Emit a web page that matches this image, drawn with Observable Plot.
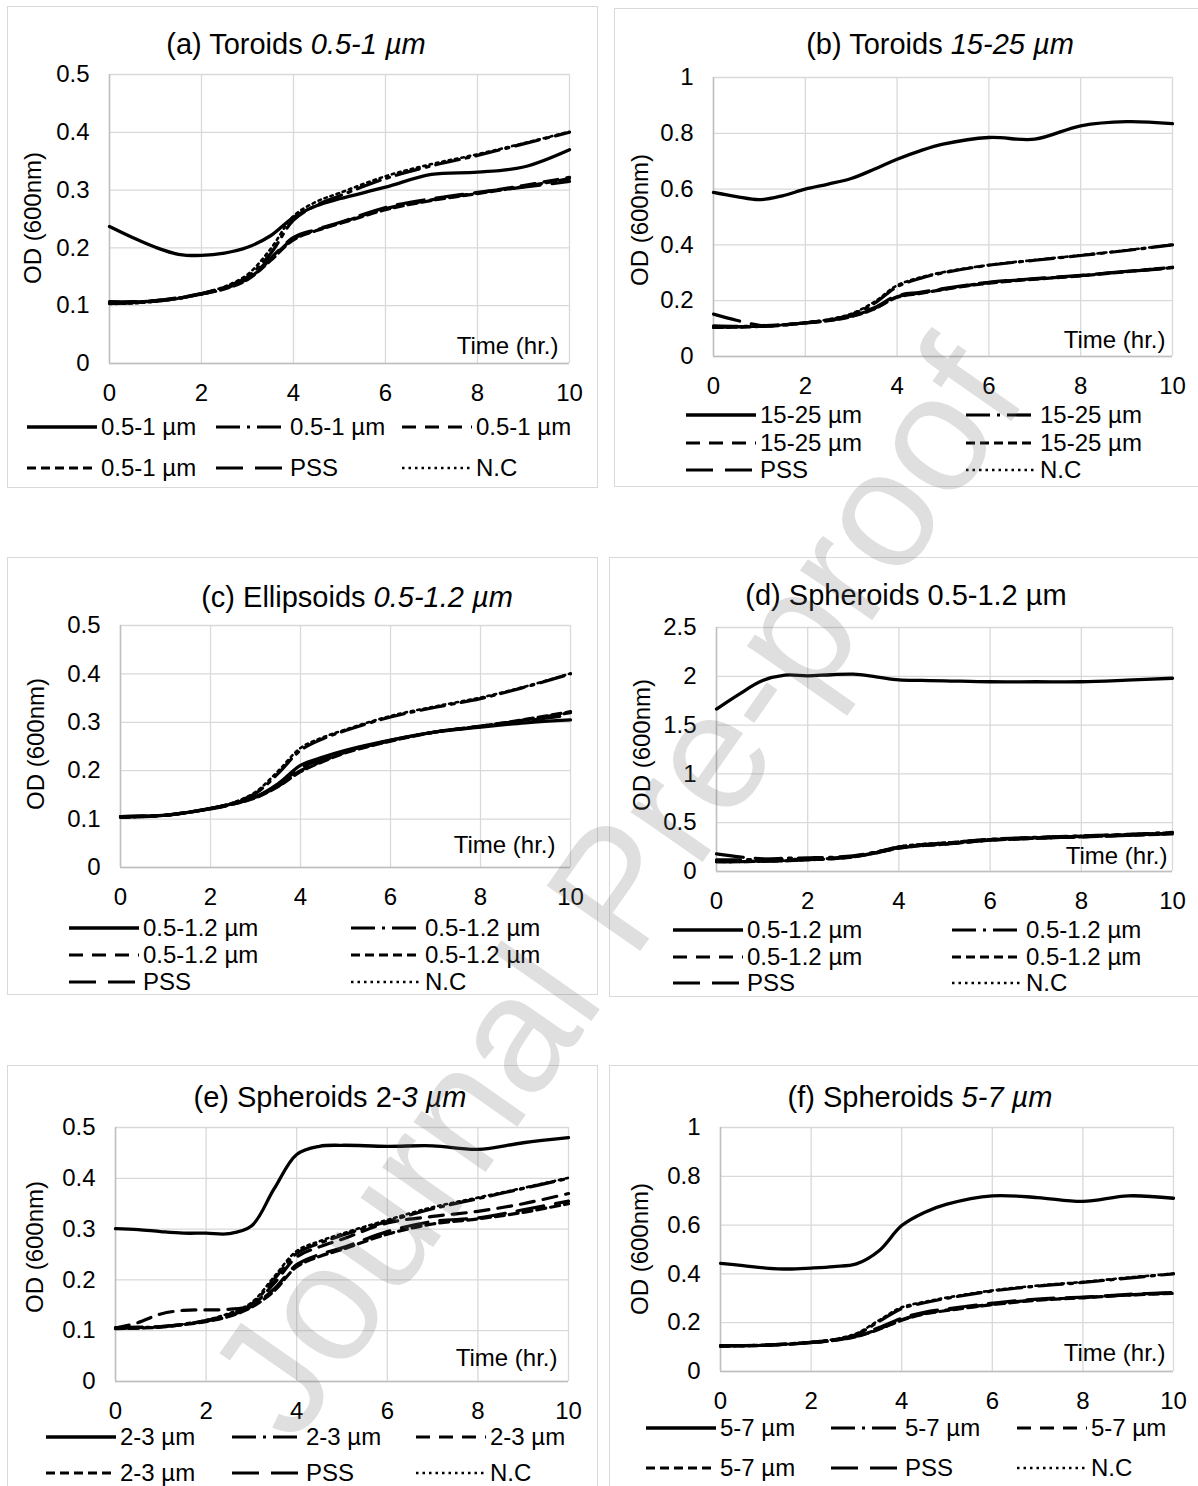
<!DOCTYPE html>
<html><head><meta charset="utf-8">
<script src="https://cdn.jsdelivr.net/npm/d3@7"></script>
<script src="https://cdn.jsdelivr.net/npm/@observablehq/plot@0.6"></script>
<style>
body{margin:0;background:#fff;}
#fig{position:relative;width:1198px;height:1486px;overflow:hidden;background:#fff;font-family:"Liberation Sans",Arial,sans-serif;color:#000;}
.box{position:absolute;border:1.5px solid #d9d9d9;box-sizing:border-box;}
.title{position:absolute;transform:translate(-50%,-50%);font-size:29px;white-space:nowrap;}
.ylab{position:absolute;transform:translate(-50%,-50%) rotate(-90deg);font-size:24px;white-space:nowrap;}
.leg{position:absolute;font-size:24px;white-space:nowrap;display:flex;align-items:center;transform:translateY(-50%);}
.leg svg{display:block;margin-right:4px;}
.wm{position:absolute;left:615px;top:888px;transform:translate(-50%,-50%) rotate(-55deg);font-size:166px;white-space:nowrap;color:rgba(110,110,110,0.22);pointer-events:none;z-index:10;}
</style></head>
<body>
<div id="fig"></div>
<script>
// ---------- data ----------
const hours = [0,0.5,1,1.5,2,2.5,3,3.5,4,4.5,5,6,7,8,9,10];
const xTicks = [0,2,4,6,8,10];

// (a) Toroids 0.5-1 µm
const a1 = [0.237,0.218,0.201,0.189,0.187,0.191,0.201,0.221,0.253,0.273,0.285,0.305,0.327,0.331,0.340,0.370];
const a2 = [0.104,0.105,0.108,0.113,0.121,0.132,0.150,0.190,0.248,0.274,0.290,0.320,0.342,0.360,0.380,0.400];
const a3 = [0.105,0.106,0.108,0.113,0.120,0.130,0.146,0.180,0.216,0.231,0.243,0.268,0.283,0.295,0.308,0.322];
const a4 = [0.106,0.106,0.109,0.113,0.120,0.129,0.145,0.178,0.214,0.230,0.242,0.266,0.282,0.294,0.306,0.320];
const a5 = [0.107,0.107,0.109,0.114,0.121,0.131,0.147,0.182,0.218,0.232,0.244,0.270,0.285,0.296,0.305,0.315];
const a6 = [0.103,0.104,0.107,0.112,0.121,0.133,0.154,0.198,0.255,0.280,0.295,0.324,0.345,0.362,0.381,0.401];
const yTicksA = [0,0.1,0.2,0.3,0.4,0.5];
const legendA = ["0.5-1 µm","0.5-1 µm","0.5-1 µm","0.5-1 µm","PSS","N.C"];

// (b) Toroids 15-25 µm
const b1 = [0.588,0.573,0.562,0.576,0.600,0.618,0.638,0.671,0.707,0.737,0.761,0.785,0.779,0.827,0.842,0.835];
const b2 = [0.110,0.108,0.108,0.112,0.121,0.131,0.150,0.190,0.250,0.280,0.300,0.327,0.345,0.362,0.380,0.400];
const b3 = [0.105,0.106,0.108,0.113,0.120,0.129,0.145,0.172,0.214,0.228,0.241,0.265,0.278,0.290,0.305,0.318];
const b4 = [0.104,0.105,0.108,0.113,0.120,0.128,0.143,0.170,0.212,0.226,0.240,0.263,0.277,0.289,0.304,0.320];
const b5 = [0.152,0.130,0.112,0.114,0.121,0.130,0.146,0.175,0.218,0.230,0.243,0.266,0.279,0.291,0.305,0.316];
const b6 = [0.105,0.106,0.108,0.113,0.122,0.133,0.153,0.195,0.255,0.283,0.302,0.328,0.346,0.363,0.381,0.401];
const yTicksB = [0,0.2,0.4,0.6,0.8,1];
const legendB = ["15-25 µm","15-25 µm","15-25 µm","15-25 µm","PSS","N.C"];

// (c) Ellipsoids 0.5-1.2 µm
const c1 = [0.105,0.106,0.108,0.114,0.122,0.132,0.146,0.173,0.211,0.228,0.242,0.263,0.280,0.290,0.299,0.305];
const c2 = [0.105,0.106,0.108,0.114,0.122,0.133,0.153,0.194,0.242,0.266,0.283,0.311,0.331,0.349,0.373,0.400];
const c3 = [0.104,0.105,0.108,0.114,0.121,0.131,0.145,0.168,0.200,0.220,0.238,0.262,0.280,0.292,0.305,0.320];
const c4 = [0.104,0.105,0.108,0.114,0.121,0.131,0.144,0.167,0.198,0.219,0.237,0.261,0.280,0.292,0.306,0.322];
const c5 = [0.105,0.106,0.108,0.114,0.122,0.132,0.146,0.170,0.205,0.224,0.240,0.263,0.280,0.291,0.303,0.315];
const c6 = [0.104,0.105,0.108,0.114,0.122,0.134,0.156,0.199,0.247,0.269,0.285,0.313,0.333,0.351,0.374,0.401];
const yTicksC = [0,0.1,0.2,0.3,0.4,0.5];
const legendC = ["0.5-1.2 µm","0.5-1.2 µm","0.5-1.2 µm","0.5-1.2 µm","PSS","N.C"];

// (d) Spheroids 0.5-1.2 µm
const d1 = [1.664,1.818,1.954,2.012,2.005,2.016,2.022,1.995,1.964,1.958,1.954,1.944,1.944,1.944,1.960,1.980];
const d2 = [0.120,0.120,0.125,0.135,0.140,0.145,0.160,0.200,0.250,0.275,0.290,0.330,0.350,0.365,0.380,0.400];
const d3 = [0.100,0.100,0.105,0.110,0.120,0.130,0.150,0.190,0.240,0.265,0.280,0.320,0.340,0.355,0.370,0.390];
const d4 = [0.100,0.100,0.105,0.110,0.120,0.130,0.150,0.190,0.240,0.265,0.280,0.320,0.340,0.355,0.370,0.385];
const d5 = [0.180,0.150,0.130,0.125,0.125,0.135,0.155,0.195,0.245,0.270,0.285,0.325,0.345,0.360,0.375,0.390];
const d6 = [0.100,0.100,0.105,0.110,0.120,0.135,0.155,0.200,0.255,0.280,0.295,0.330,0.350,0.365,0.380,0.400];
const yTicksD = [0,0.5,1,1.5,2,2.5];
const legendD = ["0.5-1.2 µm","0.5-1.2 µm","0.5-1.2 µm","0.5-1.2 µm","PSS","N.C"];

// (e) Spheroids 2-3 µm
const e1 = [0.301,0.299,0.295,0.292,0.292,0.291,0.306,0.379,0.447,0.463,0.465,0.463,0.464,0.457,0.470,0.480];
const e2 = [0.105,0.106,0.108,0.113,0.120,0.132,0.152,0.201,0.252,0.272,0.288,0.315,0.340,0.360,0.380,0.400];
const e3 = [0.105,0.116,0.133,0.140,0.141,0.142,0.150,0.193,0.245,0.265,0.280,0.312,0.325,0.335,0.350,0.370];
const e4 = [0.104,0.105,0.107,0.112,0.118,0.128,0.146,0.178,0.226,0.246,0.260,0.290,0.310,0.320,0.333,0.350];
const e5 = [0.106,0.107,0.108,0.112,0.119,0.129,0.148,0.182,0.230,0.250,0.263,0.295,0.315,0.322,0.338,0.355];
const e6 = [0.104,0.105,0.108,0.113,0.121,0.134,0.155,0.206,0.257,0.276,0.291,0.318,0.343,0.362,0.381,0.401];
const yTicksE = [0,0.1,0.2,0.3,0.4,0.5];
const legendE = ["2-3 µm","2-3 µm","2-3 µm","2-3 µm","PSS","N.C"];

// (f) Spheroids 5-7 µm
const f1 = [0.443,0.434,0.424,0.420,0.424,0.430,0.441,0.495,0.598,0.652,0.686,0.720,0.713,0.697,0.720,0.710];
const f2 = [0.105,0.106,0.108,0.113,0.120,0.130,0.152,0.205,0.258,0.282,0.300,0.330,0.350,0.365,0.383,0.400];
const f3 = [0.105,0.106,0.108,0.112,0.119,0.128,0.144,0.175,0.212,0.238,0.252,0.276,0.294,0.303,0.314,0.322];
const f4 = [0.104,0.105,0.107,0.112,0.118,0.127,0.143,0.173,0.210,0.236,0.250,0.274,0.292,0.302,0.313,0.320];
const f5 = [0.106,0.106,0.108,0.113,0.119,0.129,0.146,0.180,0.218,0.243,0.257,0.280,0.297,0.305,0.316,0.324];
const f6 = [0.104,0.105,0.108,0.113,0.121,0.132,0.156,0.210,0.263,0.285,0.303,0.332,0.352,0.367,0.385,0.401];
const yTicksF = [0,0.2,0.4,0.6,0.8,1];
const legendF = ["5-7 µm","5-7 µm","5-7 µm","5-7 µm","PSS","N.C"];

// ---------- styles / layout ----------
const FONT = '"Liberation Sans", Arial, sans-serif';
const lineStyles = [
  {dash: null, w: 3.3},
  {dash: "24,7,3,7", w: 3.2},
  {dash: "14,9", w: 3.2},
  {dash: "9,5", w: 3.2},
  {dash: "27,12", w: 3.2},
  {dash: "2.5,4", w: 2.6}
];

const panels = [
  {series:[a1,a2,a3,a4,a5,a6], yTicks:yTicksA, legend:legendA, title:["(a) Toroids ","0.5-1 µm"],
   box:[7,6,598,488], plot:[109,569,74,363], titleC:[296,44], ylab:[33,218], time:[-11,-17],
   legX:[27,216,402], legY:[427,468]},
  {series:[b1,b2,b3,b4,b5,b6], yTicks:yTicksB, legend:legendB, title:["(b) Toroids ","15-25 µm"],
   box:[614,8,1210,487], plot:[713,1172,77,356], titleC:[940,44], ylab:[640,220], time:[-7,-16],
   legX:[686,966], legY:[415,443,470]},
  {series:[c1,c2,c3,c4,c5,c6], yTicks:yTicksC, legend:legendC, title:["(c) Ellipsoids ","0.5-1.2 µm"],
   box:[7,557,598,995], plot:[120,570,625,867], titleC:[357,597], ylab:[36,744], time:[-15,-22],
   legX:[69,351], legY:[928,955,982]},
  {series:[d1,d2,d3,d4,d5,d6], yTicks:yTicksD, legend:legendD, title:["(d) Spheroids 0.5-1.2 µm",""],
   box:[609,557,1210,997], plot:[716,1172,627,871], titleC:[906,595], ylab:[642,745], time:[-5,-15],
   legX:[673,952], legY:[930,957,983]},
  {series:[e1,e2,e3,e4,e5,e6], yTicks:yTicksE, legend:legendE, title:["(e) Spheroids 2-","3 µm"],
   box:[7,1065,598,1500], plot:[115,568,1127,1381], titleC:[330,1097], ylab:[35,1247], time:[-11,-23],
   legX:[46,232,416], legY:[1437,1473]},
  {series:[f1,f2,f3,f4,f5,f6], yTicks:yTicksF, legend:legendF, title:["(f) Spheroids ","5-7 µm"],
   box:[609,1065,1210,1500], plot:[720,1173,1127,1371], titleC:[920,1097], ylab:[640,1249], time:[-8,-18],
   legX:[646,831,1017], legY:[1428,1468]}
];

const fig = document.getElementById("fig");

function el(tag, cls, parent) { const e = document.createElement(tag); if (cls) e.className = cls; (parent||fig).appendChild(e); return e; }

function legendSwatch(st) {
  const ns = "http://www.w3.org/2000/svg";
  const s = document.createElementNS(ns, "svg");
  s.setAttribute("width", 70); s.setAttribute("height", 12);
  const l = document.createElementNS(ns, "line");
  l.setAttribute("x1", 0); l.setAttribute("x2", 70); l.setAttribute("y1", 6); l.setAttribute("y2", 6);
  l.setAttribute("stroke", "#000"); l.setAttribute("stroke-width", st.w);
  if (st.dash) l.setAttribute("stroke-dasharray", st.dash);
  s.appendChild(l);
  return s;
}

panels.forEach(p => {
  const [bx0, by0, bx1, by1] = p.box;
  const box = el("div", "box");
  Object.assign(box.style, {left: bx0+"px", top: by0+"px", width: (bx1-bx0)+"px", height: (by1-by0)+"px"});

  const rows = [];
  p.series.forEach((vals, i) => vals.forEach((v, j) => rows.push({t: hours[j], od: v, k: i})));
  const ml = 100, mr = 30, mt = 20, mb = 45;
  const [pl, pr, pt, pb] = p.plot;
  const W = pr - pl + ml + mr, H = pb - pt + mt + mb;
  const marks = [
    Plot.ruleX(xTicks, {stroke: "#d9d9d9", strokeWidth: 1.3}),
    Plot.ruleY(p.yTicks, {stroke: "#d9d9d9", strokeWidth: 1.3}),
    Plot.ruleX([0], {stroke: "#bfbfbf", strokeWidth: 1.5}),
    Plot.ruleY([0], {stroke: "#bfbfbf", strokeWidth: 1.5}),
    Plot.text(["Time (hr.)"], {frameAnchor: "bottom-right", text: d => d, textAnchor: "end", lineAnchor: "middle",
      dx: p.time[0], dy: p.time[1], fontSize: 24, fill: "#000"}),
    ...lineStyles.map((st, i) => Plot.line(rows.filter(r => r.k === i), {
      x: "t", y: "od", stroke: "#000", strokeWidth: st.w, strokeDasharray: st.dash || undefined, curve: "catmull-rom"}))
  ];
  const yMax = p.yTicks[p.yTicks.length - 1];
  const svg = Plot.plot({
    width: W, height: H, marginLeft: ml, marginRight: mr, marginTop: mt, marginBottom: mb,
    x: {domain: [0, 10], ticks: xTicks, tickSize: 0, tickPadding: 20, label: null, tickFormat: d => String(d)},
    y: {domain: [0, yMax], ticks: p.yTicks, tickSize: 0, tickPadding: 20, label: null, tickFormat: d => String(d)},
    style: {fontSize: "24px", fontFamily: FONT, color: "#000", background: "transparent", overflow: "visible"},
    marks
  });
  svg.style.position = "absolute";
  svg.style.left = (pl - ml) + "px";
  svg.style.top = (pt - mt) + "px";
  fig.appendChild(svg);

  const t = el("div", "title");
  t.style.left = p.titleC[0] + "px"; t.style.top = p.titleC[1] + "px";
  t.appendChild(document.createTextNode(p.title[0]));
  if (p.title[1]) { const i = document.createElement("i"); i.textContent = p.title[1]; t.appendChild(i); }

  const yl = el("div", "ylab");
  yl.style.left = p.ylab[0] + "px"; yl.style.top = p.ylab[1] + "px";
  yl.textContent = "OD (600nm)";

  p.legend.forEach((lab, i) => {
    const nc = p.legX.length;
    const item = el("div", "leg");
    item.style.left = p.legX[i % nc] + "px";
    item.style.top = p.legY[Math.floor(i / nc)] + "px";
    item.appendChild(legendSwatch(lineStyles[i]));
    const s = document.createElement("span"); s.textContent = lab; item.appendChild(s);
  });
});

const wm = el("div", "wm");
wm.textContent = "Journal Pre-proof";
</script>
</body></html>
